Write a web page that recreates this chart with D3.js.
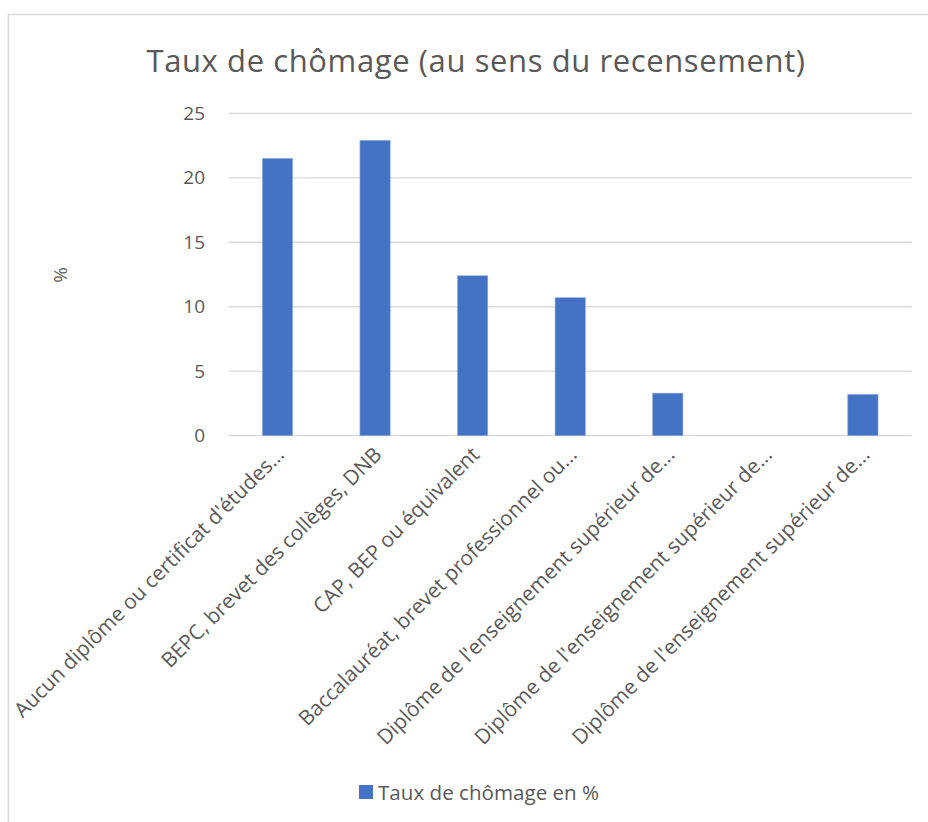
<!DOCTYPE html>
<html><head><meta charset="utf-8">
<script src="https://cdn.jsdelivr.net/npm/d3@7"></script>
<style>body{margin:0;background:#fff}svg{display:block}text{font-family:"Open Sans","Noto Sans",sans-serif;fill:#595959}</style>
</head><body><svg id="c" width="928" height="822"></svg>
<script>
const categories = ["Aucun diplôme ou certificat d'études...","BEPC, brevet des collèges, DNB","CAP, BEP ou équivalent","Baccalauréat, brevet professionnel ou...","Diplôme de l'enseignement supérieur de...","Diplôme de l'enseignement supérieur de...","Diplôme de l'enseignement supérieur de..."];
const values = [21.5, 22.9, 12.4, 10.7, 3.3, 0, 3.2];
const yTicks = [0, 5, 10, 15, 20, 25];
const title = "Taux de chômage (au sens du recensement)";
const seriesName = "Taux de chômage en %";
const yLabel = "%";

(function(){
const svg = d3.select("#c");
svg.append("rect").attr("x",8.5).attr("y",14.5).attr("width",940).attr("height",840)
  .attr("fill","#fff").attr("stroke","#d9d9d9").attr("stroke-width",1.5);

const pl=228.7, pr=911.7, pt=113.3, pb=435.7;
const x = d3.scaleBand().domain(d3.range(categories.length)).range([pl,pr]).paddingInner(0.69).paddingOuter(0.345);
const y = d3.scaleLinear().domain([0,25]).range([pb,pt]);

svg.append("g").selectAll("line").data(yTicks).join("line")
  .attr("x1",pl).attr("x2",pr).attr("y1",d=>y(d)).attr("y2",d=>y(d))
  .attr("stroke","#d9d9d9").attr("stroke-width",1.3);

svg.append("g").selectAll("text").data(yTicks).join("text")
  .attr("x",205).attr("y",d=>y(d)).attr("dy","0.35em").attr("text-anchor","end")
  .style("font-size","19px").text(d=>d);

svg.append("g").selectAll("rect").data(values).join("rect")
  .attr("x",(d,i)=>x(i)).attr("width",x.bandwidth())
  .attr("y",d=>y(d)).attr("height",d=>pb-y(d))
  .attr("fill","#4472c4").attr("stroke","#8eaadc").attr("stroke-width",0.6);

svg.append("g").selectAll("text").data(categories).join("text")
  .attr("text-anchor","end")
  .attr("transform",(d,i)=>`translate(${x(i)+x.bandwidth()/2+8},${456}) rotate(-45)`)
  .style("font-size","20.8px").text(d=>d);

svg.append("text").attr("x",476).attr("y",72).attr("text-anchor","middle")
  .style("font-size","31px").style("letter-spacing","0.6px")
  .text(title);

svg.append("text").attr("transform","translate(67,275) rotate(-90)").attr("text-anchor","middle")
  .style("font-size","19px").text(yLabel);

svg.append("rect").attr("x",359).attr("y",785).attr("width",14).attr("height",14).attr("fill","#4472c4");
svg.append("text").attr("x",378).attr("y",800).style("font-size","20.6px").text(seriesName);
})();
</script></body></html>
